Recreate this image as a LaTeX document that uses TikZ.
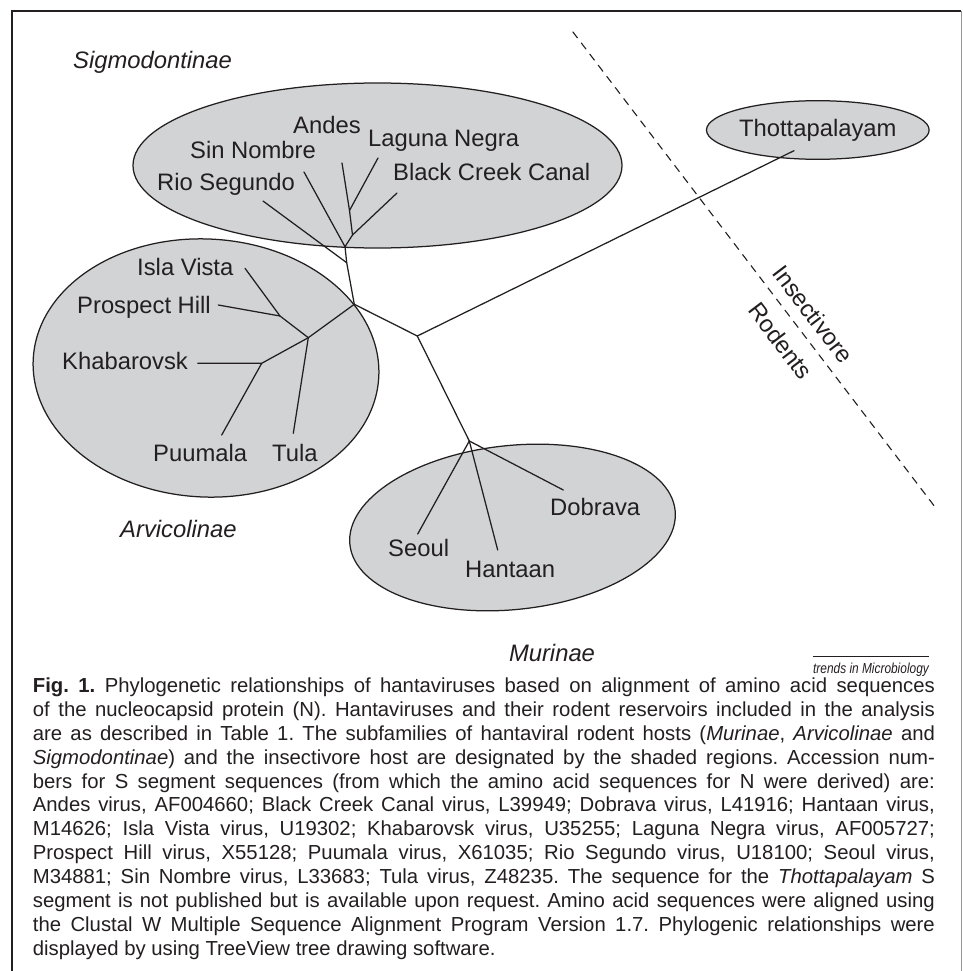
\documentclass[tikz,border=0pt]{standalone}
\usepackage{fontspec}
\usepackage{graphicx}
\setmainfont{Liberation Sans}
\usetikzlibrary{shapes.geometric}
\definecolor{ink}{RGB}{35,31,32}
\definecolor{shade}{RGB}{209,211,212}
\definecolor{edgegray}{RGB}{150,150,150}
\tikzset{
  lbl/.style={anchor=base west, inner sep=0pt, text=ink, font=\fontsize{23.8}{28}\selectfont},
  ilbl/.style={lbl, font=\fontsize{23.8}{28}\selectfont\itshape},
  branch/.style={draw=ink, line width=1.25pt, line cap=round, line join=round},
  region/.style={draw=ink, fill=shade, line width=1.25pt},
  capline/.style={anchor=base west, inner sep=0pt, text=ink, font=\fontsize{20.3}{23.85}\selectfont\frenchspacing},
  divider/.style={draw=ink, line width=1.1pt, dash pattern=on 8pt off 6pt},
}
\newcommand{\capbox}[1]{\makebox[902pt][s]{#1}}
\begin{document}
\begin{tikzpicture}[x=1pt,y=-1pt]
\useasboundingbox (0,0) rectangle (962,971);
\fill[white] (0,0) rectangle (962,971);
% frame
\draw[ink, line width=1.3pt] (12,971) -- (12,11) -- (961,11);
\draw[edgegray, line width=1pt] (961,11) -- (961,971);

% shaded regions
\draw[region] (377.5,165.5) ellipse [x radius=244.5pt, y radius=82.5pt];
\draw[region, rotate around={-3:(206,368)}] (206,368) ellipse [x radius=173pt, y radius=129pt];
\draw[region, rotate around={6:(512.5,527.5)}] (512.5,527.5) ellipse [x radius=163.5pt, y radius=82pt];
\node[region, ellipse, minimum width=201pt, minimum height=58.6pt, inner sep=0pt,
      text=ink, font=\fontsize{23.8}{28}\selectfont] (thot) at (817.8,130) {Thottapalayam};

% dashed divider
\coordinate (dA) at (572.7,31.7);
\coordinate (dB) at (936,508.3);
\draw[divider] (dA) -- (dB);

% internal nodes of the tree
\coordinate (n1) at (354.3,304.3);
\coordinate (r) at (346.7,262.7);
\coordinate (s) at (345,246.7);
\coordinate (alb) at (352.5,235);
\coordinate (al) at (349.5,210.5);
\coordinate (arv) at (308.3,337.7);
\coordinate (ip) at (280,316);
\coordinate (kh) at (261.7,363.3);
\coordinate (c2) at (417.3,336);
\coordinate (m) at (469.3,441);
% leaf ends
\coordinate (andesE) at (342,163);
\coordinate (lagunaE) at (378,158);
\coordinate (blackE) at (397,193);
\coordinate (sinE) at (304,172);
\coordinate (rioE) at (263,201);
\coordinate (islaE) at (245,268.3);
\coordinate (prospE) at (218.3,305);
\coordinate (tulaE) at (293.3,433.3);
\coordinate (khabE) at (197.7,363.3);
\coordinate (puuE) at (221.7,435);
\coordinate (thotE) at (794,150.7);
\coordinate (seoulE) at (417.7,534);
\coordinate (hantE) at (497.7,550);
\coordinate (dobE) at (563.3,490);

% branches
\draw[branch] (n1) -- (r) -- (s) -- (alb) -- (al) -- (andesE);
\draw[branch] (al) -- (lagunaE);
\draw[branch] (alb) -- (blackE);
\draw[branch] (s) -- (sinE);
\draw[branch] (r) -- (rioE);
\draw[branch] (n1) -- (arv) -- (ip) -- (islaE);
\draw[branch] (ip) -- (prospE);
\draw[branch] (arv) -- (tulaE);
\draw[branch] (arv) -- (kh) -- (khabE);
\draw[branch] (kh) -- (puuE);
\draw[branch] (n1) -- (c2) -- (thotE);
\draw[branch] (c2) -- (m) -- (seoulE);
\draw[branch] (m) -- (hantE);
\draw[branch] (m) -- (dobE);

% leaf labels
\node[lbl] (andes) at (293,133.3) {Andes};
\node[lbl] (sinnombre) at (190,158.3) {Sin Nombre};
\node[lbl] (laguna) at (368,146.7) {Laguna Negra};
\node[lbl] (black) at (393,180.7) {Black Creek Canal};
\node[lbl] (rio) at (157,190) {Rio Segundo};
\node[lbl] (isla) at (137,275) {Isla Vista};
\node[lbl] (prospect) at (77,313.3) {Prospect Hill};
\node[lbl] (khab) at (62,369.3) {Khabarovsk};
\node[lbl] (puumala) at (153,461.7) {Puumala};
\node[lbl] (tula) at (272,461.7) {Tula};
\node[lbl] (seoul) at (388,556.7) {Seoul};
\node[lbl] (hantaan) at (465,577.3) {Hantaan};
\node[lbl] (dobrava) at (550,515) {Dobrava};

% group labels
\node[ilbl] (sigmo) at (73,68.5) {Sigmodontinae};
\node[ilbl] (arvic) at (120,537.3) {Arvicolinae};
\node[ilbl, anchor=base] (murin) at (552,661) {Murinae};
\node[lbl, anchor=center, rotate=-52.7] (insect) at (813,314) {Insectivore};
\node[lbl, anchor=center, rotate=-52.7] (rodents) at (781,341) {Rodents};

% credit
\node[anchor=base, inner sep=0pt, text=ink, font=\fontsize{14.5}{16}\selectfont\itshape] (trends) at (871,673) {\scalebox{0.82}[1]{trends in Microbiology}};
\coordinate (olA) at (813,656);
\coordinate (olB) at (929,656);
\draw[ink, line width=0.9pt] (olA) -- (olB);

% caption
\node[capline] (cap1) at (32.7,692.7) {\capbox{\textbf{Fig. 1.} Phylogenetic relationships of hantaviruses based on alignment of amino acid sequences}};
\node[capline] (cap2) at (32.7,716.55) {\capbox{of the nucleocapsid protein (N). Hantaviruses and their rodent reservoirs included in the analysis}};
\node[capline] (cap3) at (32.7,740.4) {\capbox{are as described in Table 1. The subfamilies of hantaviral rodent hosts (\textit{Murinae}, \textit{Arvicolinae} and}};
\node[capline] (cap4) at (32.7,764.25) {\capbox{\textit{Sigmodontinae}) and the insectivore host are designated by the shaded regions. Accession num-}};
\node[capline] (cap5) at (32.7,788.1) {\capbox{bers for S segment sequences (from which the amino acid sequences for N were derived) are:}};
\node[capline] (cap6) at (32.7,811.95) {\capbox{Andes virus, AF004660; Black Creek Canal virus, L39949; Dobrava virus, L41916; Hantaan virus,}};
\node[capline] (cap7) at (32.7,835.8) {\capbox{M14626; Isla Vista virus, U19302; Khabarovsk virus, U35255; Laguna Negra virus, AF005727;}};
\node[capline] (cap8) at (32.7,859.65) {\capbox{Prospect Hill virus, X55128; Puumala virus, X61035; Rio Segundo virus, U18100; Seoul virus,}};
\node[capline] (cap9) at (32.7,883.5) {\capbox{M34881; Sin Nombre virus, L33683; Tula virus, Z48235. The sequence for the \textit{Thottapalayam} S}};
\node[capline] (cap10) at (32.7,907.35) {\capbox{segment is not published but is available upon request. Amino acid sequences were aligned using}};
\node[capline] (cap11) at (32.7,931.2) {\capbox{the Clustal W Multiple Sequence Alignment Program Version 1.7. Phylogenic relationships were}};
\node[capline] (cap12) at (32.7,955.05) {displayed by using TreeView tree drawing software.};
\end{tikzpicture}
\end{document}
